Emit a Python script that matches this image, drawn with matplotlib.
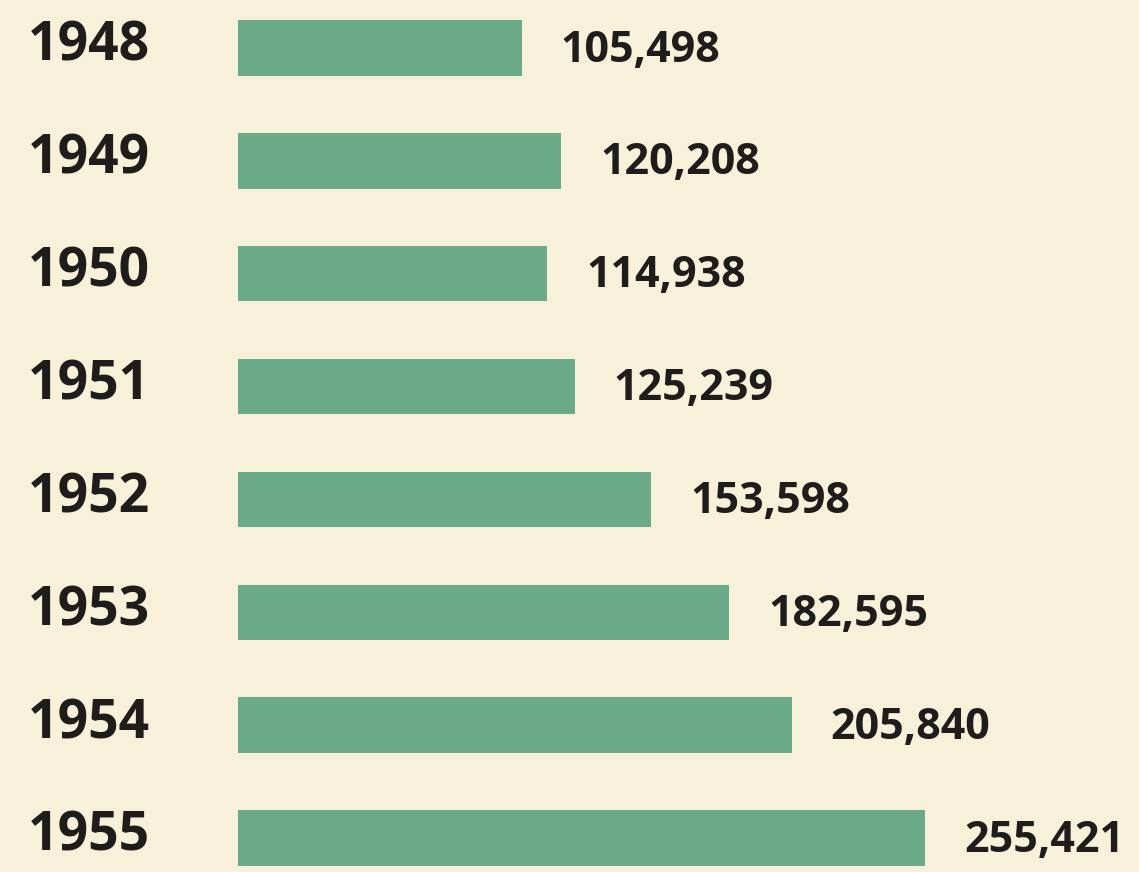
import matplotlib.pyplot as plt
from matplotlib.transforms import blended_transform_factory

years = ["1948", "1949", "1950", "1951", "1952", "1953", "1954", "1955"]
values = [105498, 120208, 114938, 125239, 153598, 182595, 205840, 255421]

BG = "#f8f1da"
BAR = "#6baa89"
INK = "#1f1d1c"
FONT = ["Open Sans", "DejaVu Sans"]

W, H = 1139, 872
fig = plt.figure(figsize=(W / 100, H / 100), dpi=100, facecolor=BG)
# axes starts where bars begin (x=238px) and spans to the right edge
ax = fig.add_axes([238 / W, 0, 1 - 238 / W, 1])
ax.set_facecolor(BG)

ypos = list(range(len(years)))
ax.barh(ypos, values, height=0.49, color=BAR, edgecolor="none")

# scale: 255,421 -> 687 px
ax.set_xlim(0, max(values) * (W - 238) / 687)
step = (838 - 48) / 7
ax.set_ylim(7 + (H - 838) / step, -48 / step)

for y, v in zip(ypos, values):
    ax.annotate(f"{v:,}", xy=(v, y), xytext=(28, -1.5), textcoords="offset points",
                ha="left", va="center", fontsize=31, fontweight="bold",
                family=FONT, color=INK)

trans = blended_transform_factory(fig.transFigure, ax.transData)
for y, yr in zip(ypos, years):
    ax.text(28 / W, y - 0.01, yr, transform=trans, ha="left", va="center",
            fontsize=38.5, fontweight="bold", family=FONT, color=INK,
            clip_on=False)

ax.axis("off")
fig.savefig("out.png", dpi=100, facecolor=BG)
